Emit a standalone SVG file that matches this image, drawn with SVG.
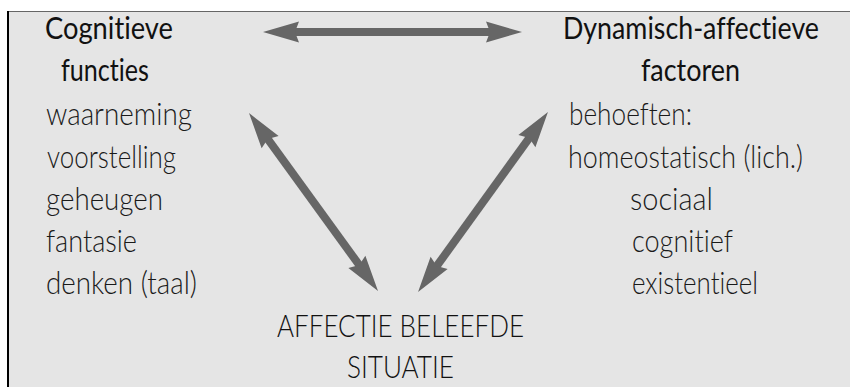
<svg xmlns="http://www.w3.org/2000/svg" width="850" height="387" viewBox="0 0 850 387">
<style>
text{font-family:Lato,"Liberation Sans",sans-serif;font-size:31px;font-variant-ligatures:none}
.h{font-weight:400;fill:#111}
.l{font-weight:300;fill:#1a1a1a}
.arr{stroke:#666;stroke-width:8;fill:none}
</style>
<defs>
<marker id="ah" markerUnits="userSpaceOnUse" markerWidth="40" markerHeight="24" refX="0" refY="0" orient="auto-start-reverse" overflow="visible">
<path d="M30,0 L-6,-10.5 L-2,0 L-6,10.5 Z" fill="#666"/>
</marker>
</defs>
<rect x="7" y="11" width="850" height="380" fill="#e5e5e5"/>
<line x1="7" y1="11.5" x2="850" y2="11.5" stroke="#666" stroke-width="1"/>
<line x1="8" y1="11" x2="8" y2="387" stroke="#000" stroke-width="2"/>
<g id="connectors">
<line class="arr" x1="293" y1="32" x2="492" y2="32" marker-start="url(#ah)" marker-end="url(#ah)"/>
<line class="arr" x1="266.6" y1="137.3" x2="360.4" y2="266.7" marker-start="url(#ah)" marker-end="url(#ah)"/>
<line class="arr" x1="530.4" y1="136.3" x2="435.6" y2="267.7" marker-start="url(#ah)" marker-end="url(#ah)"/>
</g>
<g id="cognitieve">
<text class="h" x="45" y="39" textLength="128" lengthAdjust="spacingAndGlyphs">Cognitieve</text>
<text class="h" x="61" y="81" textLength="88" lengthAdjust="spacingAndGlyphs">functies</text>
<text class="l" x="46" y="125" textLength="146" lengthAdjust="spacingAndGlyphs">waarneming</text>
<text class="l" x="47" y="168" textLength="129" lengthAdjust="spacingAndGlyphs">voorstelling</text>
<text class="l" x="46" y="210" textLength="117" lengthAdjust="spacingAndGlyphs">geheugen</text>
<text class="l" x="46" y="252" textLength="91" lengthAdjust="spacingAndGlyphs">fantasie</text>
<text class="l" x="46" y="294" textLength="151" lengthAdjust="spacingAndGlyphs">denken (taal)</text>
</g>
<g id="dynamisch">
<text class="h" x="563" y="39" textLength="256" lengthAdjust="spacingAndGlyphs">Dynamisch-affectieve</text>
<text class="h" x="641" y="81" textLength="99" lengthAdjust="spacingAndGlyphs">factoren</text>
<text class="l" x="569" y="125" textLength="123" lengthAdjust="spacingAndGlyphs">behoeften:</text>
<text class="l" x="568" y="168" textLength="235" lengthAdjust="spacingAndGlyphs">homeostatisch (lich.)</text>
<text class="l" x="630" y="210" textLength="83" lengthAdjust="spacingAndGlyphs">sociaal</text>
<text class="l" x="632" y="252" textLength="101" lengthAdjust="spacingAndGlyphs">cognitief</text>
<text class="l" x="632" y="294" textLength="126" lengthAdjust="spacingAndGlyphs">existentieel</text>
</g>
<g id="situatie">
<text class="l" x="277" y="337" textLength="247" lengthAdjust="spacingAndGlyphs" style="fill:#111">AFFECTIE BELEEFDE</text>
<text class="l" x="347" y="378" textLength="107" lengthAdjust="spacingAndGlyphs" style="fill:#111">SITUATIE</text>
</g>
</svg>
